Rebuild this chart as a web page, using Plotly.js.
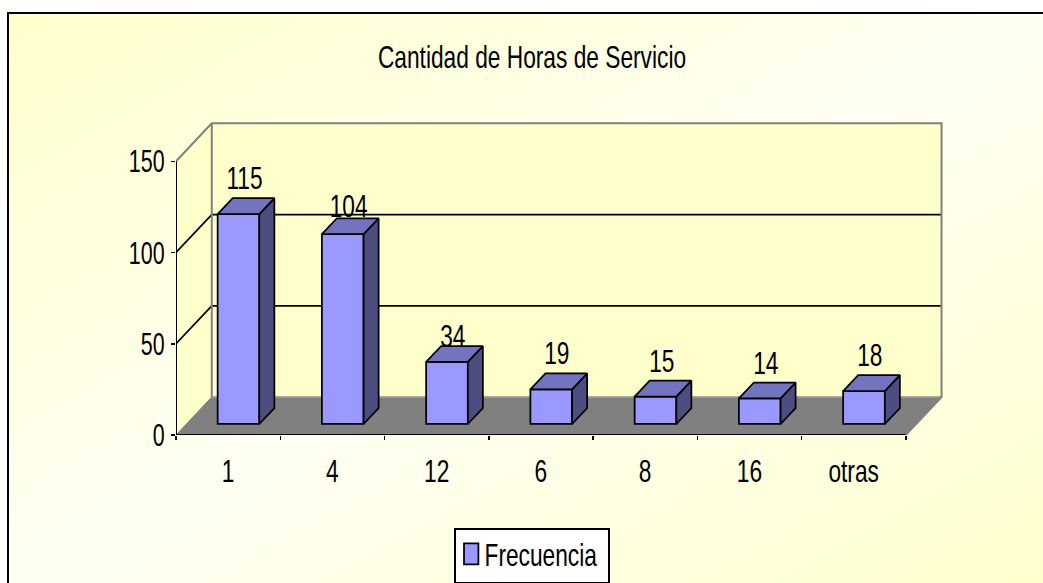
<!DOCTYPE html>
<html><head><meta charset="utf-8">
<script src="https://cdn.plot.ly/plotly-3.0.1.min.js"></script>
<style>
html,body{margin:0;padding:0;background:#fff;width:1043px;height:583px;overflow:hidden}
#frame{position:absolute;left:7px;top:12px;width:1043px;height:580px;border:2px solid #000;box-sizing:content-box;
background:linear-gradient(to bottom right,#FFFFCC 0%,#FFFFF4 50%,#FFFFCC 100%)}
#chart{position:absolute;left:0;top:0;width:1043px;height:583px}
</style></head><body>
<div id="frame"></div>
<div id="chart"></div>
<script>
const categories = ['1','4','12','6','8','16','otras'];
const frecuencia = [115,104,34,19,15,14,18];
const yTicks = [0,50,100,150];
const seriesName = 'Frecuencia';
const chartTitle = 'Cantidad de Horas de Servicio';

// 3-D projection, in axis units
const DEPTH_X = 0.343, DEPTH_Y = 20.8;
const BAR_W = 0.4, BAR_FRONT = 0.29, BAR_BACK = 0.71;
const X_MIN = -0.5, X_MAX = categories.length - 0.5;
const Y_MAX = yTicks[yTicks.length-1];
const FONT = '"Liberation Sans",Arial,sans-serif';
const FS = 32, SQUEEZE = 0.71, SQUEEZE_Y = 0.67;
const INK = '#000';
const pr = (c,v,d) => [c + d*DEPTH_X, v + d*DEPTH_Y];
const idx = categories.map((_,i)=>i);

function poly(points){
  return 'M' + points.map(p=>p[0]+','+p[1]).join('L') + 'Z';
}
function seg(a,b,color,w){
  return {type:'path',layer:'below',xref:'x',yref:'y',path:'M'+a[0]+','+a[1]+'L'+b[0]+','+b[1],line:{color,width:w}};
}
const shapes = [
  {type:'path',layer:'below',xref:'x',yref:'y',fillcolor:'#FFFFCC',line:{width:0},
   path:poly([pr(X_MIN,0,0),pr(X_MIN,Y_MAX,0),pr(X_MIN,Y_MAX,1),pr(X_MAX,Y_MAX,1),pr(X_MAX,0,1),pr(X_MIN,0,1)])},
  {type:'path',layer:'below',xref:'x',yref:'y',fillcolor:'#808080',line:{color:'#808080',width:1},
   path:poly([pr(X_MIN,0,0),pr(X_MIN,0,1),pr(X_MAX,0,1),pr(X_MAX,0,0)])},
  seg(pr(X_MIN,0,1),pr(X_MAX,0,1),'#A0A0A0',1.5)
];
yTicks.slice(1,-1).forEach(v=>{
  shapes.push(seg(pr(X_MIN,v,0),pr(X_MIN,v,1),INK,1.75));
  shapes.push(seg(pr(X_MIN,v,1),pr(X_MAX,v,1),INK,1.75));
});

function joined(list){
  const xs=[],ys=[];
  list.forEach(pts=>{pts.forEach(p=>{xs.push(p[0]);ys.push(p[1]);});xs.push(null);ys.push(null);});
  return {x:xs,y:ys};
}
const sides = joined(idx.map(i=>{
  const r=i+BAR_W/2, v=frecuencia[i];
  return [pr(r,0,BAR_FRONT),pr(r,0,BAR_BACK),pr(r,v,BAR_BACK),pr(r,v,BAR_FRONT),pr(r,0,BAR_FRONT)];
}));
const tops = joined(idx.map(i=>{
  const l=i-BAR_W/2, r=i+BAR_W/2, v=frecuencia[i];
  return [pr(l,v,BAR_FRONT),pr(l,v,BAR_BACK),pr(r,v,BAR_BACK),pr(r,v,BAR_FRONT),pr(l,v,BAR_FRONT)];
}));
const frame = joined([
  [pr(X_MIN,Y_MAX,0),pr(X_MIN,Y_MAX,1),pr(X_MAX,Y_MAX,1),pr(X_MAX,0,1),pr(X_MAX,0,0)],
  [pr(X_MIN,Y_MAX,1),pr(X_MIN,0,1)],
]);
const axes = joined([
  [pr(X_MIN,Y_MAX,0),pr(X_MIN,0,0),pr(X_MAX,0,0)]
]);

const traces = [
  {type:'bar',name:seriesName,x:idx.map(i=>pr(i,0,BAR_FRONT)[0]),y:frecuencia,base:idx.map(()=>BAR_FRONT*DEPTH_Y),
   width:BAR_W,marker:{color:'#9999FF',line:{color:INK,width:1.75}},showlegend:true,hoverinfo:'skip'},
  {type:'scatter',mode:'lines',x:frame.x,y:frame.y,line:{color:'#808080',width:2},showlegend:false,hoverinfo:'skip',cliponaxis:false},
  {type:'scatter',mode:'lines',x:sides.x,y:sides.y,fill:'toself',fillcolor:'#4D4D80',line:{color:INK,width:1.75},showlegend:false,hoverinfo:'skip',cliponaxis:false},
  {type:'scatter',mode:'lines',x:tops.x,y:tops.y,fill:'toself',fillcolor:'#7373BF',line:{color:INK,width:1.75},showlegend:false,hoverinfo:'skip',cliponaxis:false},
  {type:'scatter',mode:'lines',x:axes.x,y:axes.y,line:{color:INK,width:2},showlegend:false,hoverinfo:'skip',cliponaxis:false}
];

const LABEL_DROP = {'4':8,'12':10};
const annotations = idx.map(i=>({
  x:pr(i,0,BAR_BACK-0.25)[0],y:pr(i,frecuencia[i],BAR_BACK)[1],xref:'x',yref:'y',text:String(frecuencia[i]),showarrow:false,
  yanchor:'middle',yshift:20-(LABEL_DROP[categories[i]]||0),font:{family:FONT,size:FS,color:INK}
}));

const layout = {
  width:1043,height:583,
  margin:{l:176,r:90,t:110,b:148,pad:0},
  paper_bgcolor:'rgba(0,0,0,0)',plot_bgcolor:'rgba(0,0,0,0)',
  title:{text:chartTitle,font:{family:FONT,size:FS,color:INK},x:532/1043,xanchor:'center',y:1-57/583,yanchor:'middle'},
  font:{family:FONT,size:FS,color:INK},
  barmode:'overlay',
  xaxis:{range:[X_MIN,X_MIN+777/104.25],showgrid:false,zeroline:false,showline:false,automargin:false,tickangle:0,
    tickmode:'array',tickvals:idx,ticktext:categories,ticks:'',ticklabelstandoff:14,
    minor:{ticks:'outside',ticklen:4,tickwidth:1.5,tickcolor:INK,tickmode:'array',tickvals:categories.concat('').map((_,i)=>i-0.5),showgrid:false},
    tickfont:{family:FONT,size:FS,color:INK}},
  yaxis:{range:[0,325/1.825],showgrid:false,zeroline:false,showline:false,automargin:false,
    tickmode:'array',tickvals:yTicks,ticks:'outside',ticklen:4,tickwidth:1.5,tickcolor:INK,
    tickfont:{family:FONT,size:FS,color:INK}},
  legend:{x:(454-176)/777,xanchor:'left',y:1-528/583,yanchor:'top',xref:'paper',yref:'container',bgcolor:'#fff',bordercolor:INK,borderwidth:1.5,
    font:{family:FONT,size:FS,color:INK},orientation:'v'},
  shapes,annotations,showlegend:true
};
Plotly.newPlot('chart',traces,layout,{displayModeBar:false,staticPlot:true}).then(()=>{
  // the reference uses a tall, condensed face: compress all text horizontally
  document.querySelectorAll('#chart svg text').forEach(t=>{
    const len=t.getComputedTextLength();
    const k=t.closest('.ytick')?SQUEEZE_Y:SQUEEZE;
    if(len>0){t.setAttribute('textLength',len*k);t.setAttribute('lengthAdjust','spacingAndGlyphs');}
  });
  // legend box and key sized as in the reference
  const bg=document.querySelector('#chart .legend .bg');
  if(bg){bg.setAttribute('width',154);bg.setAttribute('height',54);}
  const lt=document.querySelector('#chart .legendtext');
  if(lt) lt.setAttribute('x',29);
  document.querySelectorAll('#chart .legendpoints path').forEach(p=>{
    p.setAttribute('transform','translate(15.7,0) scale(1.2,1.75)');
    p.style.vectorEffect='non-scaling-stroke';
  });
  const tr=document.querySelector('#chart .legend .traces');
  if(tr){
    const m=/translate\(\s*([-\d.]+)[ ,]+([-\d.]+)/.exec(tr.getAttribute('transform')||'');
    if(m) tr.setAttribute('transform','translate('+m[1]+','+(parseFloat(m[2])-3)+')');
  }
});
</script>
</body></html>
